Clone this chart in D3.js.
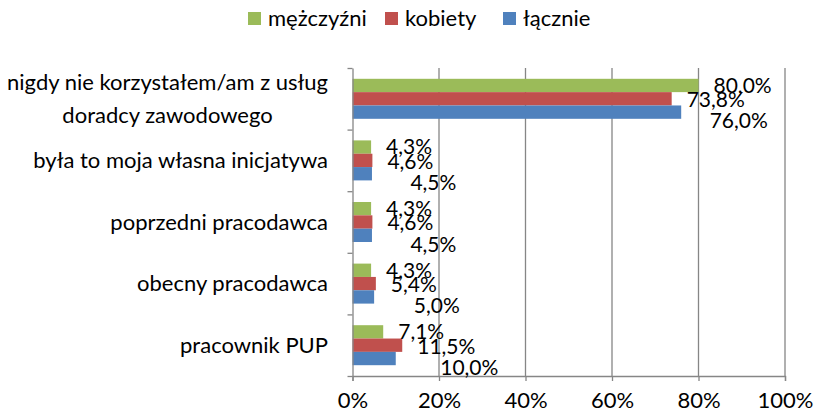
<!DOCTYPE html>
<html><head><meta charset="utf-8">
<script src="https://cdn.jsdelivr.net/npm/d3@7"></script>
<style>body{margin:0;background:#fff}svg{display:block}text{font-family:Lato,"Open Sans",sans-serif;fill:#000}</style>
</head><body><svg id="c" width="814" height="419"></svg>
<script>
const categories = [
  ["nigdy nie korzystałem/am z usług", "doradcy zawodowego"],
  ["była to moja własna inicjatywa"],
  ["poprzedni pracodawca"],
  ["obecny pracodawca"],
  ["pracownik PUP"]
];
const seriesNames = ["mężczyźni", "kobiety", "łącznie"];
const men = [80.0, 4.3, 4.3, 4.3, 7.1];
const women = [73.8, 4.6, 4.6, 5.4, 11.5];
const total = [76.0, 4.5, 4.5, 5.0, 10.0];
const xTicks = [0, 20, 40, 60, 80, 100];
const colors = ["#9BBB59", "#C0504D", "#4F81BD"];
const series = [men, women, total];

const svg = d3.select("#c");
const FS = 22;
const x = d3.scaleLinear().domain([0, 100]).range([352.5, 785]);
const y = d3.scaleBand().domain(d3.range(categories.length)).range([68, 376]).paddingInner(0).paddingOuter(0);
const inner = d3.scaleBand().domain(d3.range(3)).range([0, y.bandwidth()]).paddingOuter(0.81).paddingInner(0);

// gridlines
svg.append("g").selectAll("line").data(xTicks.slice(1)).join("line")
  .attr("x1", d => x(d)).attr("x2", d => x(d)).attr("y1", 68).attr("y2", 376)
  .attr("stroke", "#868686").attr("stroke-width", 1.3);

// bars
series.forEach((s, si) => {
  svg.append("g").selectAll("rect").data(s).join("rect")
    .attr("x", x(0)).attr("y", (d, i) => y(i) + inner(si))
    .attr("width", d => x(d) - x(0)).attr("height", inner.bandwidth())
    .attr("fill", colors[si]);
});

// axes
const xAxis = d3.axisBottom(x).tickValues(xTicks).tickFormat(d => d + "%").tickSize(5).tickPadding(11);
const gx = svg.append("g").attr("transform", "translate(0,376)").call(xAxis);
gx.select(".domain").attr("stroke", "#868686").attr("stroke-width", 1.3);
gx.selectAll(".tick line").attr("stroke", "#868686").attr("stroke-width", 1.3);
gx.selectAll(".tick text").attr("font-size", FS).attr("font-family", "Lato").attr("dy", "0.71em");

const yb = d3.scaleLinear().domain([0, categories.length]).range([68, 376]);
const yAxis = d3.axisLeft(yb).tickValues(d3.range(categories.length + 1)).tickFormat("").tickSize(5).tickSizeOuter(0);
const gy = svg.append("g").attr("transform", "translate(352.5,0)").call(yAxis);
gy.select(".domain").attr("stroke", "#868686").attr("stroke-width", 1.3);
gy.selectAll(".tick line").attr("stroke", "#868686").attr("stroke-width", 1.3);

// category labels
const catG = svg.append("g");
categories.forEach((lines, i) => {
  const cy = y(i) + y.bandwidth() / 2;
  const lh = 33;
  const t = catG.append("text").attr("font-size", FS).attr("text-anchor", "end");
  lines.forEach((l, k) => {
    t.append("tspan").attr("x", 328).attr("y", cy + (k - (lines.length - 1) / 2) * lh).attr("dy", "0.35em").text(l);
  });
  if (lines.length > 1) {
    const ws = [];
    t.selectAll("tspan").each(function () { ws.push(this.getComputedTextLength()); });
    const mw = d3.max(ws);
    t.attr("text-anchor", "middle").selectAll("tspan").attr("x", 328 - mw / 2);
  }
});

// data labels
const fmt = v => v.toFixed(1).replace(".", ",") + "%";
const lab = svg.append("g");
series.forEach((s, si) => {
  s.forEach((v, i) => {
    const cy = y(i) + inner(si) + inner.bandwidth() / 2;
    const lx = si < 2 ? x(v) + 15 : x(women[i]) + 15 + 23;
    const dy = [0, 1, 9][si];
    lab.append("text").attr("x", lx).attr("y", cy + dy).attr("dy", "0.35em").attr("font-size", 21).text(fmt(v));
  });
});

// legend
const lg = svg.append("g");
const legX = [248, 385, 503];
seriesNames.forEach((n, i) => {
  lg.append("rect").attr("x", legX[i]).attr("y", 12).attr("width", 13).attr("height", 13).attr("fill", colors[i]);
  lg.append("text").attr("x", legX[i] + 20).attr("y", 18.5).attr("dy", "0.35em").attr("font-size", FS).text(n);
});
</script></body></html>
